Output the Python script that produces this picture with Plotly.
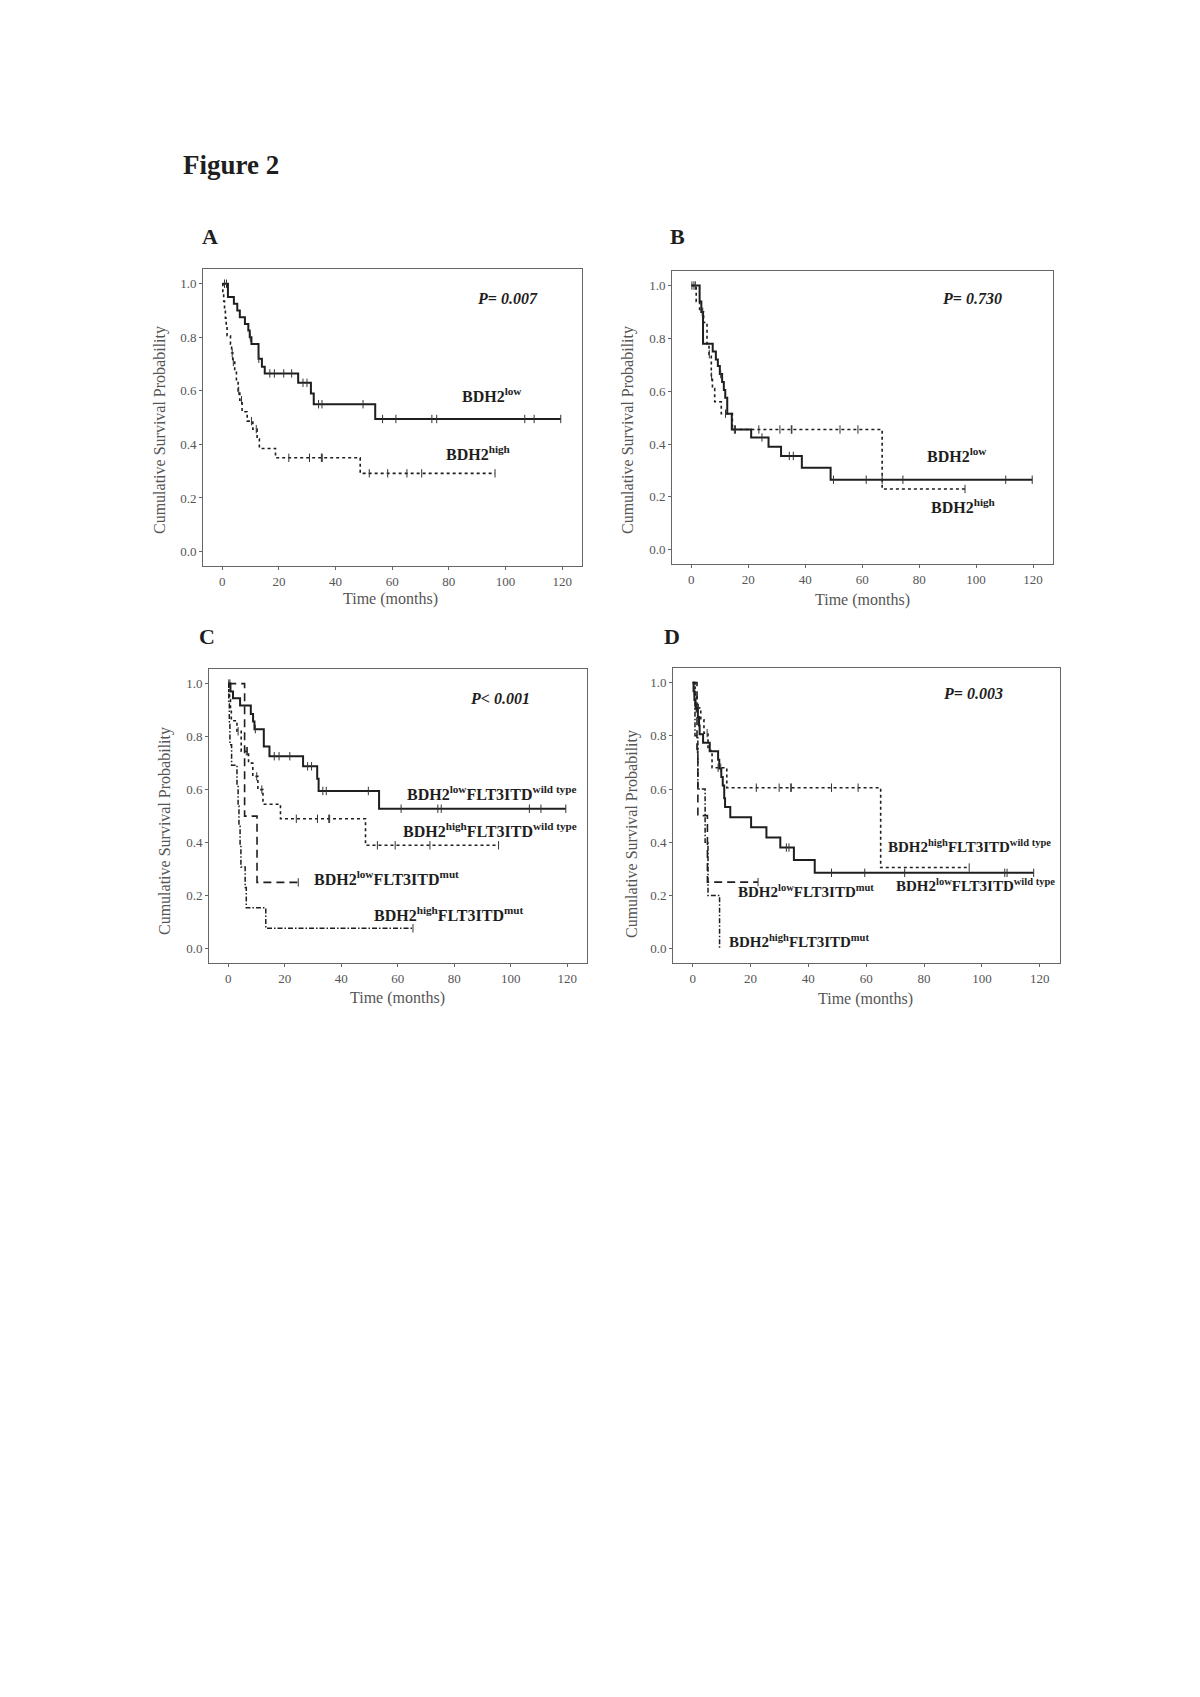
import numpy as np
import plotly.graph_objects as go

# ---------------- data ----------------
# Panel A
A_low_t = [2.0, 4.1, 5.3, 6.2, 8.0, 9.2, 9.7, 10.3, 12.8, 14.0, 15.0, 26.8, 31.3, 32.3, 54.0]
A_low_s = [0.95, 0.925, 0.90, 0.875, 0.85, 0.825, 0.80, 0.775, 0.72, 0.69, 0.665, 0.63, 0.59, 0.55, 0.495]
A_low_end = 119.5
A_low_c = [0.8, 1.5, 9.9, 12.9, 16.8, 18.4, 21.7, 24.5, 28.5, 29.9, 34.0, 35.2, 49.7, 56.6, 61.3, 74.0, 75.7, 106.8, 110.1, 119.5]

A_high_t = [0.2, 0.5, 0.8, 1.1, 1.4, 1.7, 2.9, 3.3, 3.7, 4.4, 5.0, 5.6, 6.2, 7.0, 8.8, 10.8, 12.3, 13.1, 18.8, 48.7]
A_high_s = [0.968, 0.935, 0.903, 0.871, 0.839, 0.806, 0.774, 0.742, 0.708, 0.672, 0.636, 0.60, 0.565, 0.522, 0.487, 0.457, 0.42, 0.385, 0.35, 0.292]
A_high_end = 96.3
A_high_c = [3.5, 3.9, 5.8, 6.8, 10.3, 12.0, 23.5, 30.8, 35.0, 35.3, 51.9, 58.4, 65.2, 70.4, 96.3]

# Panel B
B_low_t = [2.9, 3.5, 4.1, 7.5, 8.6, 9.3, 10.0, 10.8, 11.4, 11.9, 12.6, 14.2, 21.0, 27.1, 31.5, 38.8, 48.9]
B_low_s = [0.94, 0.90, 0.78, 0.75, 0.72, 0.695, 0.665, 0.635, 0.605, 0.575, 0.515, 0.455, 0.425, 0.39, 0.355, 0.31, 0.265]
B_low_end = 119.7
B_low_c = [0.2, 0.9, 1.4, 3.8, 10.3, 15.1, 24.8, 34.4, 35.8, 49.9, 61.4, 67.0, 74.3, 110.4, 119.7]

B_high_t = [1.7, 2.9, 4.3, 5.5, 6.2, 7.0, 7.4, 8.2, 10.5, 14.4, 67.0]
B_high_s = [0.94, 0.90, 0.86, 0.78, 0.74, 0.655, 0.61, 0.56, 0.515, 0.455, 0.23]
B_high_end = 96.1
B_high_c = [4.0, 6.3, 7.1, 12.0, 15.5, 23.7, 31.1, 35.1, 35.3, 52.2, 58.5, 96.1]

# Panel C
C_lwt_t = [0.8, 1.7, 4.2, 8.0, 8.8, 9.3, 12.6, 14.6, 26.5, 31.5, 32.0, 53.4]
C_lwt_s = [0.97, 0.945, 0.917, 0.885, 0.857, 0.828, 0.763, 0.726, 0.688, 0.641, 0.595, 0.528]
C_lwt_end = 119.5
C_lwt_c = [0.2, 0.6, 9.6, 16.3, 18.0, 21.8, 28.1, 29.5, 33.5, 34.7, 49.6, 61.2, 74.2, 75.4, 106.6, 110.7, 119.5]

C_hwt_t = [0.2, 0.5, 0.8, 1.1, 3.1, 4.6, 7.2, 8.7, 10.5, 12.3, 18.5, 48.6]
C_hwt_s = [0.97, 0.94, 0.90, 0.86, 0.82, 0.745, 0.70, 0.65, 0.60, 0.545, 0.49, 0.39]
C_hwt_end = 95.7
C_hwt_c = [3.5, 6.4, 6.8, 10.1, 11.9, 24.1, 31.6, 35.6, 35.9, 52.8, 59.1, 71.4, 95.7]

C_lmut_t = [5.8, 10.2]
C_lmut_s = [0.5, 0.25]
C_lmut_end = 24.8
C_lmut_c = [24.8]

C_hmut_t = [0.2, 0.4, 0.6, 1.2, 3.1, 3.5, 3.8, 4.2, 4.5, 6.0, 6.4, 13.3]
C_hmut_s = [0.923, 0.846, 0.769, 0.692, 0.615, 0.538, 0.462, 0.385, 0.308, 0.231, 0.154, 0.077]
C_hmut_end = 65.4
C_hmut_c = [65.4]

# Panel D
D_lwt_t = [0.3, 0.6, 1.0, 1.8, 2.2, 2.4, 3.6, 5.9, 8.8, 9.2, 9.9, 10.4, 10.9, 11.2, 13.0, 20.2, 25.5, 30.3, 35.0, 42.2]
D_lwt_s = [0.968, 0.935, 0.903, 0.871, 0.839, 0.806, 0.774, 0.742, 0.71, 0.677, 0.645, 0.613, 0.565, 0.532, 0.494, 0.456, 0.418, 0.38, 0.333, 0.285]
D_lwt_end = 117.9
D_lwt_c = [0.5, 1.2, 32.4, 33.3, 48.0, 59.5, 73.3, 107.9, 108.7, 117.9]

D_hwt_t = [0.8, 1.5, 2.8, 3.9, 5.3, 6.7, 11.8, 65.0]
D_hwt_s = [0.955, 0.905, 0.86, 0.81, 0.745, 0.68, 0.605, 0.305]
D_hwt_end = 95.6
D_hwt_c = [2.0, 5.0, 8.8, 9.7, 22.0, 29.9, 33.9, 34.1, 48.0, 57.2, 95.6]

D_lmut_t = [1.5, 1.8, 5.1]
D_lmut_s = [0.75, 0.5, 0.25]
D_lmut_end = 22.6
D_lmut_c = [1.6, 22.6]

D_hmut_t = [0.8, 1.8, 4.3, 5.3, 9.3]
D_hmut_s = [0.8, 0.6, 0.4, 0.2, 0.0]
D_hmut_end = 9.3
D_hmut_c = []

x_ticks = [0, 20, 40, 60, 80, 100, 120]
y_ticks = [0.0, 0.2, 0.4, 0.6, 0.8, 1.0]
p_values = ["P= 0.007", "P= 0.730", "P< 0.001", "P= 0.003"]
panel_letters = ["A", "B", "C", "D"]

# ---------------- figure ----------------
# the page body has an 8px margin, so the figure is 16px smaller than the window
OFF = 8
W, H = 1200 - 2 * OFF, 1697 - 2 * OFF
SERIF = "Liberation Serif, Times New Roman, serif"
INK = "#1e1e1e"


def px(x):
    return (x - OFF) / W


def py(y):
    return 1 - (y - OFF) / H


fig = go.Figure()


def add_curve(ax, times, surv, end, cens, dash, width):
    xs = [0] + list(times)
    ys = [1.0] + list(surv)
    if end > xs[-1]:
        xs.append(end)
        ys.append(ys[-1])
    fig.add_trace(go.Scatter(x=xs, y=ys, mode="lines", line_shape="hv",
                             line=dict(color=INK, width=width, dash=dash),
                             xaxis="x" + ax, yaxis="y" + ax, showlegend=False,
                             hoverinfo="skip"))
    if cens:
        vals = [1.0] + list(surv)
        cy = [vals[int(np.searchsorted(times, c, side="right"))] for c in cens]
        fig.add_trace(go.Scatter(x=cens, y=cy, mode="markers",
                                 marker=dict(symbol="line-ns", size=6,
                                             line=dict(width=1, color="#333333")),
                                 xaxis="x" + ax, yaxis="y" + ax, showlegend=False,
                                 hoverinfo="skip"))


# panel boxes in page pixels: (left, top, right, bottom)
boxes = {
    "": (203, 269, 582, 566),
    "2": (672, 271, 1053, 564),
    "3": (209, 669, 587, 963),
    "4": (673, 668, 1060, 963),
}

add_curve("", A_low_t, A_low_s, A_low_end, A_low_c, "solid", 2)
add_curve("", A_high_t, A_high_s, A_high_end, A_high_c, "dot", 1.6)
add_curve("2", B_low_t, B_low_s, B_low_end, B_low_c, "solid", 2)
add_curve("2", B_high_t, B_high_s, B_high_end, B_high_c, "dot", 1.6)
add_curve("3", C_lwt_t, C_lwt_s, C_lwt_end, C_lwt_c, "solid", 2)
add_curve("3", C_hwt_t, C_hwt_s, C_hwt_end, C_hwt_c, "dot", 1.6)
add_curve("3", C_lmut_t, C_lmut_s, C_lmut_end, C_lmut_c, "8px,5px", 1.6)
add_curve("3", C_hmut_t, C_hmut_s, C_hmut_end, C_hmut_c, "5px,2px,1.5px,2px", 1.5)
add_curve("4", D_lwt_t, D_lwt_s, D_lwt_end, D_lwt_c, "solid", 2)
add_curve("4", D_hwt_t, D_hwt_s, D_hwt_end, D_hwt_c, "dot", 1.6)
add_curve("4", D_lmut_t, D_lmut_s, D_lmut_end, D_lmut_c, "8px,5px", 1.6)
add_curve("4", D_hmut_t, D_hmut_s, D_hmut_end, D_hmut_c, "5px,2px,1.5px,2px", 1.5)

axis_common = dict(showline=True, mirror=True, linecolor="#666666", linewidth=1,
                   ticks="outside", ticklen=3, tickcolor="#666666", showgrid=False,
                   zeroline=False, tickfont=dict(family=SERIF, size=13, color="#555555"))
layout = {}
for ax, (l, t, r, b) in boxes.items():
    layout["xaxis" + ax] = dict(axis_common, domain=[px(l), px(r)], range=[-6.8, 127],
                                tickvals=x_ticks, anchor="y" + ax)
    layout["yaxis" + ax] = dict(axis_common, domain=[py(b), py(t)], range=[-0.054, 1.055],
                                tickvals=y_ticks, tickformat=".1f", anchor="x" + ax)
fig.update_layout(**layout)

ann = []


def text(x, y, s, size, xanchor="left", angle=0, color=INK):
    ann.append(dict(x=px(x), y=py(y), xref="paper", yref="paper", text=s, showarrow=False,
                    xanchor=xanchor, yanchor="middle", textangle=angle,
                    font=dict(family=SERIF, size=size, color=color)))


text(181, 165, "<b>Figure 2</b>", 27)
for (x, y), letter in zip([(210, 237), (677, 237), (207, 637), (672, 637)], panel_letters):
    text(x, y, "<b>" + letter + "</b>", 22, xanchor="center")
for (x, y), p in zip([(475, 298), (940, 299), (468, 699), (941, 693)], p_values):
    text(x, y, "<b><i>" + p + "</i></b>", 16)

# axis titles
for (x, y) in [(390, 599), (862, 600), (397, 998), (865, 999)]:
    text(x, y, "Time (months)", 16, xanchor="center", color="#555555")
for (x, y) in [(160, 430), (628, 430), (165, 831), (632, 834)]:
    text(x, y, "Cumulative Survival Probability", 16, xanchor="center", angle=-90, color="#555555")

# curve labels
text(460, 395, "<b>BDH2<sup>low</sup></b>", 16)
text(444, 453, "<b>BDH2<sup>high</sup></b>", 16)
text(925, 455, "<b>BDH2<sup>low</sup></b>", 16)
text(929, 506, "<b>BDH2<sup>high</sup></b>", 16)
text(405, 793, "<b>BDH2<sup>low</sup>FLT3ITD<sup>wild type</sup></b>", 16)
text(401, 830, "<b>BDH2<sup>high</sup>FLT3ITD<sup>wild type</sup></b>", 16)
text(312, 878, "<b>BDH2<sup>low</sup>FLT3ITD<sup>mut</sup></b>", 16)
text(372, 914, "<b>BDH2<sup>high</sup>FLT3ITD<sup>mut</sup></b>", 16)
text(886, 846, "<b>BDH2<sup>high</sup>FLT3ITD<sup>wild type</sup></b>", 15)
text(894, 885, "<b>BDH2<sup>low</sup>FLT3ITD<sup>wild type</sup></b>", 15)
text(736, 891, "<b>BDH2<sup>low</sup>FLT3ITD<sup>mut</sup></b>", 15)
text(727, 941, "<b>BDH2<sup>high</sup>FLT3ITD<sup>mut</sup></b>", 15)

fig.update_layout(width=W, height=H, margin=dict(l=0, r=0, t=0, b=0),
                  paper_bgcolor="white", plot_bgcolor="white", annotations=ann)

fig.write_html("out.html")
